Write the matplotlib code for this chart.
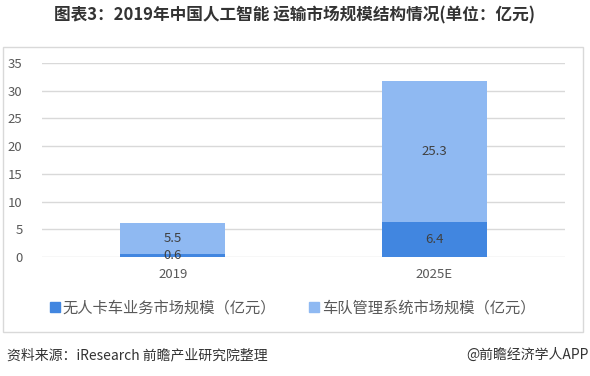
import matplotlib.pyplot as plt
from matplotlib.patches import Rectangle
from matplotlib.lines import Line2D

plt.rcParams['font.family'] = ['Noto Sans CJK SC', 'DejaVu Sans']

# Data
categories = ["2019", "2025E"]
truck_values = [0.6, 6.4]      # 无人卡车业务市场规模
fleet_values = [5.5, 25.3]     # 车队管理系统市场规模
series_names = ["无人卡车业务市场规模（亿元）", "车队管理系统市场规模（亿元）"]
y_ticks = [0, 5, 10, 15, 20, 25, 30, 35]

dark_blue = "#4186E0"
light_blue = "#8FB9F2"
grid_color = "#D9D9D9"
text_color = "#595959"

fig = plt.figure(figsize=(5.9, 3.76), dpi=100)
ax = fig.add_axes([42 / 590, 1 - 257 / 376, 523 / 590, 194 / 376])

x = range(len(categories))
ax.bar(x, truck_values, width=0.4, color=dark_blue, zorder=3)
ax.bar(x, fleet_values, width=0.4, bottom=truck_values, color=light_blue, zorder=3)

# Value labels in the middle of each segment
for i in x:
    ax.text(i, truck_values[i] / 2, f"{truck_values[i]}", ha="center", va="center",
            fontsize=9.5, color="#404040", zorder=4)
    ax.text(i, truck_values[i] + fleet_values[i] / 2, f"{fleet_values[i]}",
            ha="center", va="center", fontsize=9.5, color="#404040", zorder=4)

ax.set_xlim(-0.5, 1.5)
ax.set_ylim(0, 35)
ax.set_yticks(y_ticks)
ax.set_xticks(list(x))
ax.set_xticklabels(categories)
ax.tick_params(axis="both", length=0, labelsize=9.5, colors=text_color)
ax.tick_params(axis="y", pad=14)
ax.tick_params(axis="x", pad=8)
ax.grid(axis="y", color=grid_color, linewidth=1, zorder=0)
for s in ax.spines.values():
    s.set_visible(False)

# Outer frame around chart and legend
fig.patches.append(Rectangle((3 / 590, 1 - 332 / 376), 580 / 590, 285 / 376,
                             transform=fig.transFigure, fill=False,
                             edgecolor=grid_color, linewidth=1))

fig.text(294.5 / 590, 1 - 15 / 376,
         "图表3：2019年中国人工智能 运输市场规模结构情况(单位：亿元)",
         ha="center", va="center", fontsize=12, fontweight="bold", color="#333333")

handles = [Line2D([], [], marker="s", linestyle="", markersize=7, color=dark_blue),
           Line2D([], [], marker="s", linestyle="", markersize=7, color=light_blue)]
fig.legend(handles, series_names, loc="center", bbox_to_anchor=(293 / 590, 1 - 308 / 376),
           ncol=2, frameon=False, fontsize=11, handlelength=0.6, handletextpad=0.2,
           columnspacing=2.2, labelcolor=text_color)

fig.text(7 / 590, 1 - 355 / 376, "资料来源：iResearch 前瞻产业研究院整理",
         ha="left", va="center", fontsize=10, color="#333333")
fig.text(589 / 590, 1 - 355 / 376, "@前瞻经济学人APP",
         ha="right", va="center", fontsize=10, color="#333333")

fig.savefig("out.png", dpi=100)
